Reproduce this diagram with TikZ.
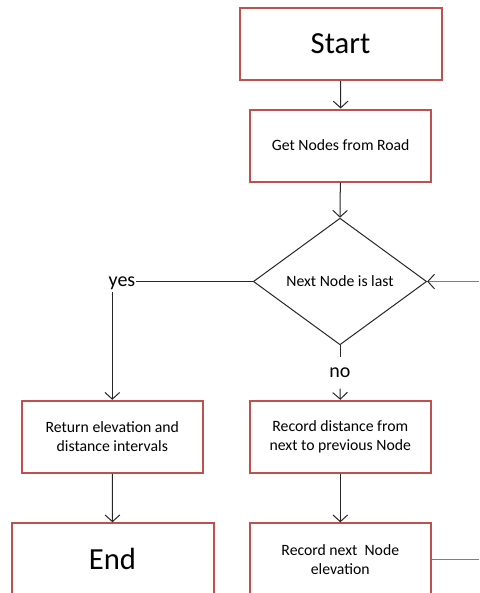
\documentclass[tikz,border=0pt]{standalone}
\usepackage{fontspec}
\setmainfont{Carlito}
\usetikzlibrary{arrows.meta,shapes.geometric,calc}
\definecolor{boxred}{HTML}{C0504D}
\definecolor{linegray}{HTML}{7F7F7F}
\definecolor{inkdark}{HTML}{262626}
\begin{document}
\begin{tikzpicture}[x=0.75pt,y=-0.75pt,
  box/.style={draw=boxred, line width=1.5pt, minimum width=135.75pt,
    minimum height=54pt, inner sep=0pt, align=center,
    font=\fontsize{11.8}{14.3}\selectfont},
  bigbox/.style={box, minimum width=151.5pt, font=\fontsize{23}{27}\selectfont},
  decision/.style={diamond, draw=inkdark, line width=0.75pt, minimum width=130pt,
    minimum height=95pt, aspect=1.37, inner sep=0pt,
    font=\fontsize{11.8}{14.3}\selectfont},
  link/.style={draw=inkdark, line width=0.75pt},
  arr/.style={link, -{Straight Barb[length=5pt,width=11pt]}},
  loopline/.style={draw=linegray, line width=1.1pt},
  answer/.style={font=\fontsize{15}{18}\selectfont, inner xsep=0.5pt, inner ysep=0pt,
    text height=7pt, text depth=0pt}
]
\useasboundingbox (0,0) rectangle (479,593);

% process boxes
\node[bigbox] (start)   at (340.5,44)    {Start};
\node[box]    (get)     at (340.7,145.5) {Get Nodes from Road};
\node[decision] (dec)   at (340,281.5)   {Next Node is last};
\node[box]    (ret)     at (112.3,436.8) {Return elevation and\\distance intervals};
\node[box]    (rec)     at (340.3,436.8) {Record distance from\\next to previous Node};
\node[bigbox] (endn)    at (112.5,559.3) {End};
\node[box]    (recnext) at (340.3,559.3) {Record next\ \ Node\\elevation};

% branch labels
\node[answer] (yes) at (122,281.5) {yes};
\node[answer, inner ysep=8pt] (no) at (340,373) {no};

% loop ends leaving the frame on the right
\coordinate (loopin)  at (479,281.5);
\coordinate (loopout) at (479,559.3);

% main flow
\draw[arr] (start) -- (get);
\draw[arr] (get) -- (dec.north);
\draw[link] (dec.west) -- (yes.east);
\draw[arr] ($(yes.south -| ret.north)+(0,-4pt)$) -- (ret.north);
\draw[link] (dec.south) -- (no.north);
\draw[arr] (no.south) -- (rec.north);
\draw[arr] (ret) -- (endn);
\draw[arr] (rec) -- (recnext);

% loop back into the decision
\draw[loopline] (recnext.east) -- (loopout);
\draw[loopline, -{Straight Barb[length=5pt,width=11pt,color=inkdark,line width=0.75pt]}] (loopin) -- (dec.east);
\end{tikzpicture}
\end{document}
